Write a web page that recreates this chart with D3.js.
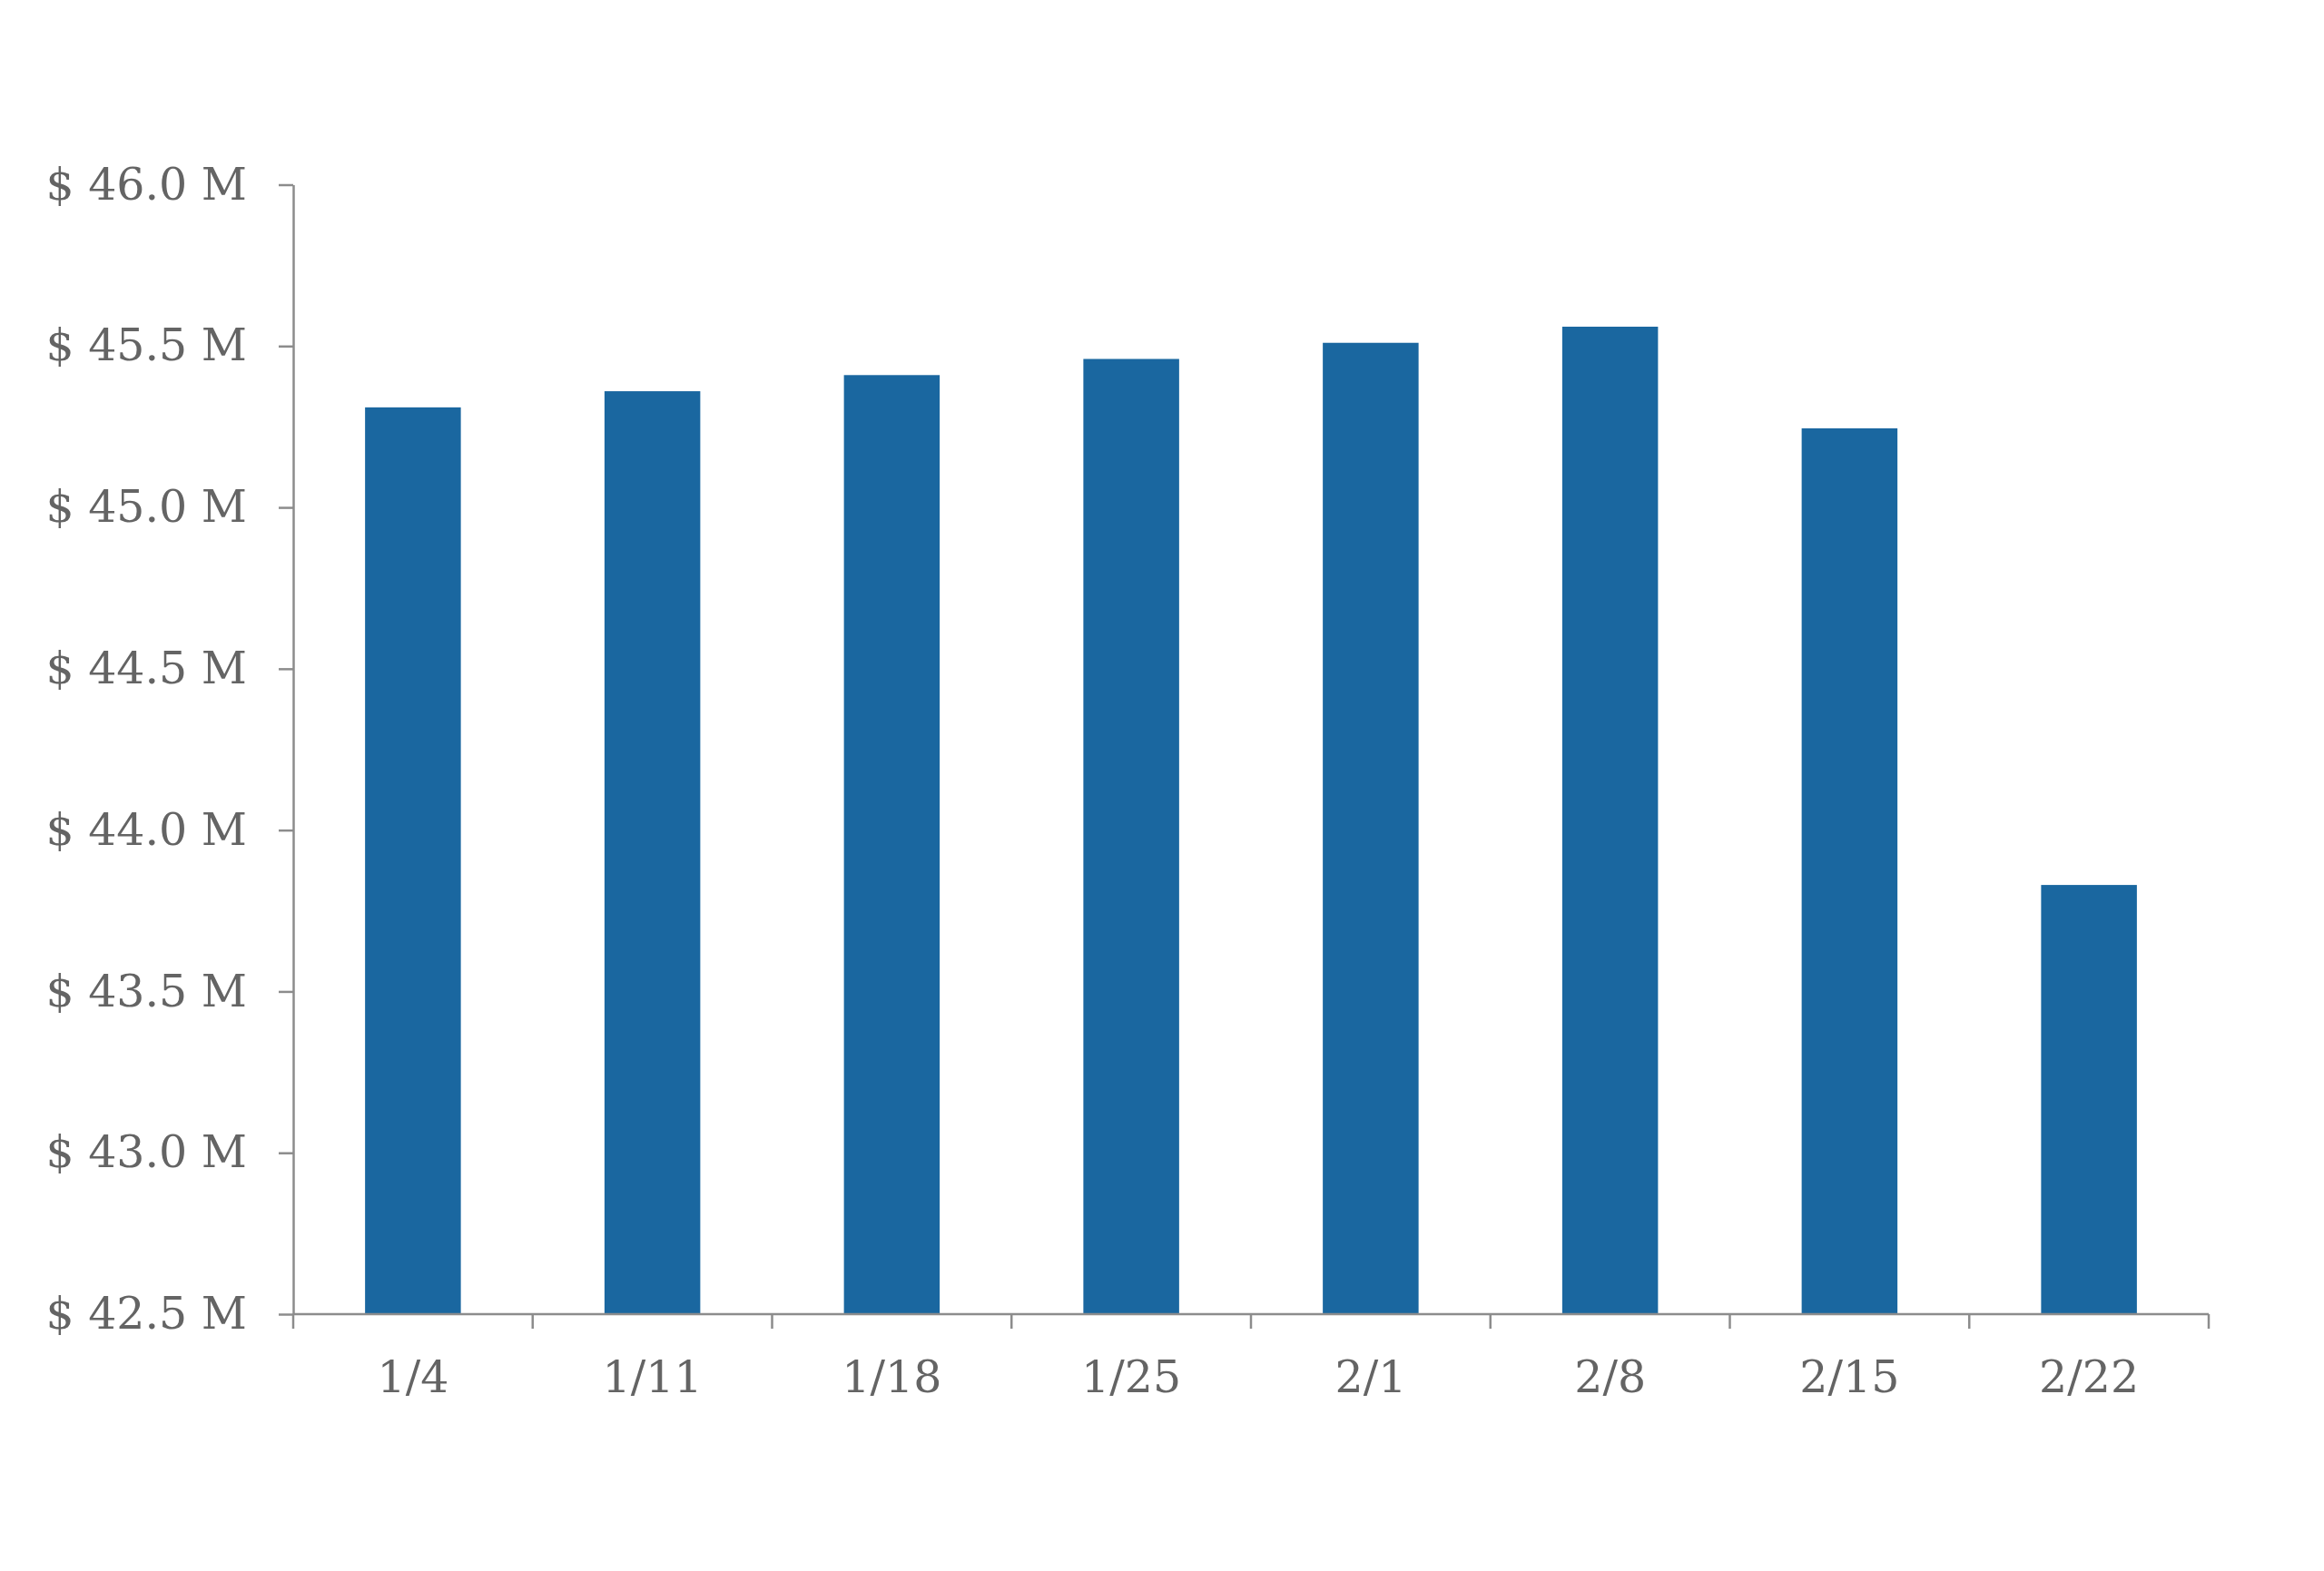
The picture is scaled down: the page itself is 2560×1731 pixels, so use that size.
<!DOCTYPE html>
<html>
<head>
<meta charset="utf-8">
<script src="https://cdn.jsdelivr.net/npm/d3@7"></script>
<style>
  html, body { margin: 0; padding: 0; background: #ffffff; }
  svg { display: block; }
</style>
</head>
<body>
<svg id="chart" width="2560" height="1731"></svg>
<script>
const categories = ["1/4", "1/11", "1/18", "1/25", "2/1", "2/8", "2/15", "2/22"];
const values = [45.31, 45.36, 45.41, 45.46, 45.51, 45.56, 45.245, 43.83];
const yTicks = [42.5, 43.0, 43.5, 44.0, 44.5, 45.0, 45.5, 46.0];

(function () {
const plotLeft = 323, plotRight = 2433, plotTop = 203.5, plotBottom = 1448;
const textColor = "#646464";
const axisColor = "#8c8c8c";
const barColor = "#1a67a0";
const fontFamily = "'DejaVu Serif', 'Liberation Serif', serif";

const svg = d3.select("#chart");

const x = d3.scaleBand().domain(categories).range([plotLeft, plotRight])
  .paddingInner(0.6).paddingOuter(0.3);
const y = d3.scaleLinear().domain([42.5, 46.0]).range([plotBottom, plotTop]);

// bars
svg.append("g").selectAll("rect").data(values).join("rect")
  .attr("x", (d, i) => x(categories[i]))
  .attr("width", x.bandwidth())
  .attr("y", d => y(d))
  .attr("height", d => y(42.5) - y(d))
  .attr("fill", barColor);

// y axis
const yAxis = d3.axisLeft(y).tickValues(yTicks)
  .tickSize(16).tickSizeOuter(0).tickPadding(35)
  .tickFormat(d => "$ " + d3.format(".1f")(d) + " M");
const gy = svg.append("g").attr("transform", `translate(${plotLeft},0)`).call(yAxis);
gy.select(".domain").attr("stroke", axisColor).attr("stroke-width", 2.5);
gy.selectAll(".tick line").attr("stroke", axisColor).attr("stroke-width", 2.5);
gy.selectAll(".tick text").attr("fill", textColor)
  .style("font-family", fontFamily).style("font-size", "49px");

// x axis (labels centered on bands)
const xAxis = d3.axisBottom(x).tickSize(0).tickSizeOuter(0).tickPadding(0);
const gx = svg.append("g").attr("transform", `translate(0,${plotBottom})`).call(xAxis);
gx.select(".domain").attr("d", `M${plotLeft},0H${plotRight}`)
  .attr("stroke", axisColor).attr("stroke-width", 2.5);
gx.selectAll(".tick text").attr("fill", textColor)
  .attr("y", 86).attr("dy", null)
  .style("font-family", fontFamily).style("font-size", "49px");

// boundary tick marks between categories
const bounds = categories.map(c => x(c) - x.step() * x.paddingOuter()).concat([plotRight]);
gx.append("g").selectAll("line").data(bounds).join("line")
  .attr("x1", d => d).attr("x2", d => d)
  .attr("y1", 0).attr("y2", 16)
  .attr("stroke", axisColor).attr("stroke-width", 2.5);
})();
</script>
</body>
</html>
